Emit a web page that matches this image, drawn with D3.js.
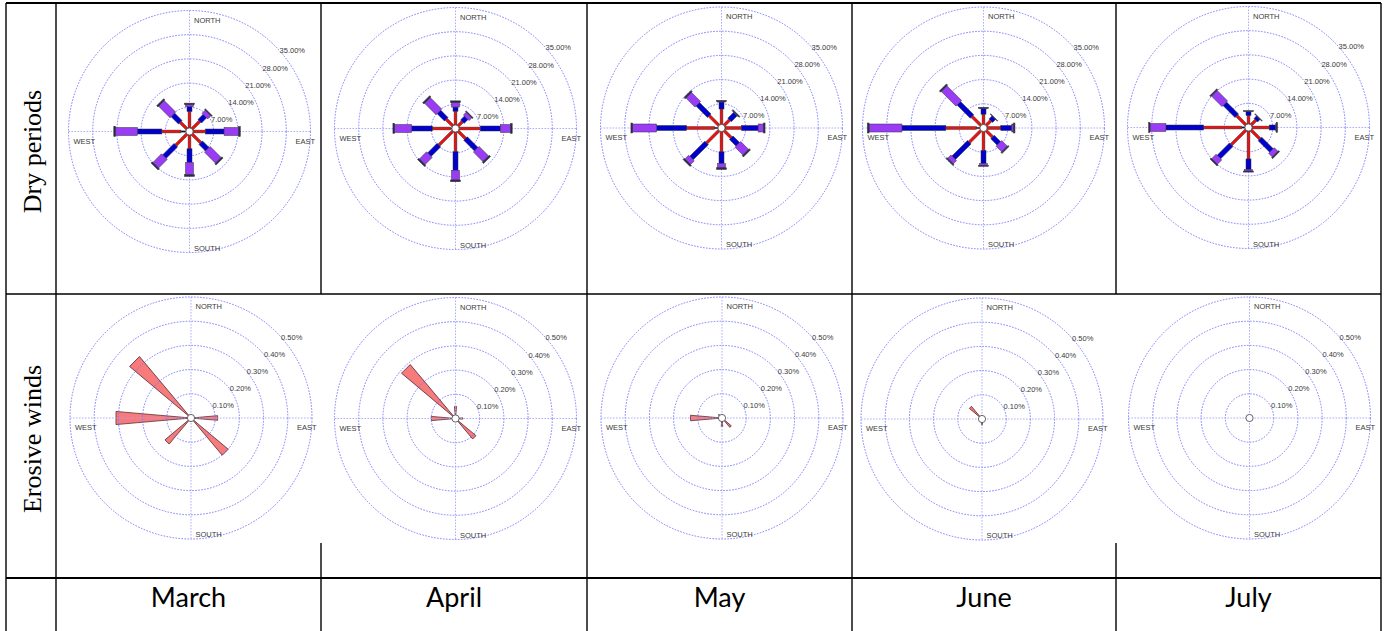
<!DOCTYPE html>
<html>
<head>
<meta charset="utf-8">
<script src="https://cdn.jsdelivr.net/npm/d3@7"></script>
<style>
  html, body { margin: 0; padding: 0; background: #fff; }
  svg { display: block; }
</style>
</head>
<body>
<svg id="chart" width="1387" height="631"></svg>
<script>
// ---- data -------------------------------------------------------------
const months = ["March", "April", "May", "June", "July"];
const rowTitles = ["Dry periods", "Erosive winds"];
const directions = ["N", "NE", "E", "SE", "S", "SW", "W", "NW"];
const speedClasses = ["class1", "class2", "class3", "class4", "class5"];

const dryTicks = [7, 14, 21, 28, 35];
const dryTickLabels = ["7.00%", "14.00%", "21.00%", "28.00%", "35.00%"];
const erosiveTicks = [0.1, 0.2, 0.3, 0.4, 0.5];
const erosiveTickLabels = ["0.10%", "0.20%", "0.30%", "0.40%", "0.50%"];

// Dry periods: frequency (%) per direction (N, NE, E, SE, S, SW, W, NW),
// split into the five speed classes
const dryMarch = [
  [1.0, 4.8, 1.4, 0.6, 0.4],
  [1.0, 3.2, 2.1, 1.3, 0.3],
  [1.0, 3.6, 5.4, 4.2, 0.5],
  [1.0, 3.6, 2.7, 4.5, 0.5],
  [1.0, 4.0, 4.0, 3.5, 0.5],
  [1.0, 4.6, 4.7, 3.5, 0.5],
  [2.5, 5.5, 7.1, 6.3, 0.5],
  [1.0, 2.8, 3.0, 4.7, 0.5]
];
const dryApril = [
  [1.0, 4.0, 1.2, 1.3, 0.5],
  [0.8, 2.0, 1.6, 1.1, 0.3],
  [1.0, 6.2, 5.8, 2.9, 0.5],
  [1.0, 3.1, 4.4, 3.9, 0.5],
  [1.0, 5.7, 5.4, 2.8, 0.5],
  [1.0, 5.8, 3.9, 2.9, 0.5],
  [1.5, 5.2, 6.0, 4.9, 0.5],
  [1.0, 2.8, 3.0, 4.7, 0.5]
];
const dryMay = [
  [1.0, 4.5, 2.0, 0.2, 0.3],
  [1.0, 2.3, 2.4, 0.1, 0.3],
  [1.0, 4.8, 4.8, 1.5, 0.5],
  [1.0, 3.0, 2.7, 3.2, 0.5],
  [1.0, 5.9, 3.4, 1.2, 0.5],
  [1.0, 5.1, 6.2, 1.5, 0.5],
  [2.0, 8.1, 8.7, 6.9, 0.5],
  [1.0, 4.0, 4.7, 3.7, 0.5]
];
const dryJune = [
  [1.0, 3.0, 1.6, 0.1, 0.3],
  [0.8, 2.2, 1.2, 0.0, 0.2],
  [1.0, 4.0, 3.2, 0.5, 0.4],
  [1.0, 2.7, 2.6, 2.3, 0.4],
  [1.0, 5.5, 3.8, 0.5, 0.3],
  [1.0, 4.8, 6.4, 1.3, 0.4],
  [2.0, 8.9, 12.7, 9.5, 0.5],
  [1.0, 3.7, 5.4, 6.0, 0.5]
];
const dryJuly = [
  [1.0, 2.5, 1.1, 0.0, 0.3],
  [0.8, 2.2, 1.0, 0.0, 0.2],
  [1.0, 5.0, 1.9, 0.1, 0.4],
  [1.0, 3.7, 4.7, 1.5, 0.4],
  [1.0, 8.1, 3.1, 0.4, 0.3],
  [1.0, 6.1, 5.0, 1.8, 0.4],
  [2.0, 11.0, 10.9, 4.6, 0.4],
  [1.0, 3.8, 4.9, 4.3, 0.4]
];

// Erosive winds: frequency (%) per direction (N, NE, E, SE, S, SW, W, NW)
const erosiveMarch = [0, 0, 0.11, 0.20, 0.015, 0.14, 0.31, 0.33];
const erosiveApril = [0.05, 0, 0.03, 0.11, 0.01, 0, 0.10, 0.29];
const erosiveMay   = [0, 0, 0, 0.05, 0.035, 0, 0.13, 0.02];
const erosiveJune  = [0, 0, 0, 0, 0.025, 0, 0.012, 0.068];
const erosiveJuly  = [0, 0, 0, 0, 0, 0, 0.014, 0];

const dryData = [dryMarch, dryApril, dryMay, dryJune, dryJuly];
const erosiveData = [erosiveMarch, erosiveApril, erosiveMay, erosiveJune, erosiveJuly];

// ---- layout / style ---------------------------------------------------
const svg = d3.select("#chart");
const R = 121;
const dryCenters = [[189.5, 131.5], [455.5, 128.5], [721.5, 128], [983.5, 128], [1248.5, 127.5]];
const eroCenters = [[191, 418], [455.5, 418.5], [722, 418], [982, 419], [1249.5, 418]];

const classColors = ["#00004a", "#ee1010", "#0000cc", "#9a3cf5", "#2a2a50"];
const classWidths = [1.2, 2.8, 5, 8, 10];
const ringColor = "#6f6fff";
const axisColor = "#a4a4ff";
const labelFont = "'Liberation Sans', Arial, sans-serif";

const colX = [56, 321, 587, 852, 1116, 1381];
const rowY = [3, 294, 578];

// ---- table grid -------------------------------------------------------
const grid = svg.append("g").attr("stroke", "#000").attr("stroke-width", 1.4);
grid.append("line").attr("x1", 6).attr("x2", 6).attr("y1", rowY[0]).attr("y2", 631);
colX.forEach((x, i) => {
  const partial = (i === 1 || i === 4);
  // rows 1 and 3 full height; in row 2 some borders sit behind the chart images
  grid.append("line").attr("x1", x).attr("x2", x).attr("y1", rowY[0]).attr("y2", rowY[1]);
  grid.append("line").attr("x1", x).attr("x2", x).attr("y1", partial ? 543 : rowY[1]).attr("y2", rowY[2]);
  grid.append("line").attr("x1", x).attr("x2", x).attr("y1", rowY[2]).attr("y2", 631);
});
grid.append("line").attr("x1", 6).attr("x2", colX[5]).attr("y1", rowY[0]).attr("y2", rowY[0]).attr("stroke-width", 1.8);
grid.append("line").attr("x1", 6).attr("x2", colX[5]).attr("y1", rowY[1]).attr("y2", rowY[1]);
grid.append("line").attr("x1", 6).attr("x2", colX[5]).attr("y1", rowY[2]).attr("y2", rowY[2]).attr("stroke-width", 2);

// row titles
rowTitles.forEach((t, i) => {
  const cy = (rowY[i] + rowY[i + 1]) / 2 + 3;
  svg.append("text")
    .attr("transform", `translate(41,${cy}) rotate(-90)`)
    .attr("text-anchor", "middle")
    .attr("font-family", "'Liberation Serif', 'Times New Roman', serif")
    .attr("font-size", 26)
    .attr("fill", "#000")
    .text(t);
});

// month labels
months.forEach((m, i) => {
  svg.append("text")
    .attr("x", (colX[i] + colX[i + 1]) / 2)
    .attr("y", 607)
    .attr("text-anchor", "middle")
    .attr("font-family", "Lato, 'Open Sans', sans-serif")
    .attr("font-size", 27)
    .attr("fill", "#000")
    .text(m);
});

// ---- wind rose helpers ------------------------------------------------
function drawGrid(g, r, ticks) {
  const gg = g.append("g")
    .attr("fill", "none")
    .attr("stroke-width", 0.9)
    .attr("stroke-dasharray", "1.6,1.4");
  ticks.forEach(t => gg.append("circle").attr("r", r(t)).attr("stroke", ringColor));
  const rmax = r(ticks[ticks.length - 1]);
  gg.append("line").attr("x1", -rmax).attr("x2", rmax).attr("y1", 0).attr("y2", 0).attr("stroke", axisColor);
  gg.append("line").attr("x1", 0).attr("x2", 0).attr("y1", -rmax).attr("y2", rmax).attr("stroke", axisColor);
}

function drawLabels(g, r, ticks, tickLabels) {
  const rmax = r(ticks[ticks.length - 1]);
  const lab = g.append("g")
    .attr("font-family", labelFont)
    .attr("font-size", 7.5)
    .attr("fill", "#3a3a3a");
  ticks.forEach((t, i) => {
    const d = r(t) * Math.SQRT1_2;
    lab.append("text").attr("x", d + 4.5).attr("y", -d + 7.5).text(tickLabels[i]);
  });
  lab.append("text").attr("x", 4.5).attr("y", -rmax + 12).text("NORTH");
  lab.append("text").attr("x", 4.5).attr("y", rmax - 2).text("SOUTH");
  lab.append("text").attr("x", rmax - 15).attr("y", 12.3).text("EAST");
  lab.append("text").attr("x", -rmax + 5).attr("y", 12.3).text("WEST");
}

function drawCalm(g) {
  g.append("circle").attr("r", 3.6)
    .attr("fill", "#fff").attr("stroke", "#555").attr("stroke-width", 0.9);
}

// ---- dry period roses -------------------------------------------------
dryData.forEach((data, m) => {
  const [cx, cy] = dryCenters[m];
  const g = svg.append("g").attr("transform", `translate(${cx},${cy})`);
  const r = d3.scaleLinear().domain([0, 35]).range([0, R]);

  drawGrid(g, r, dryTicks);

  const bars = g.append("g");
  data.forEach((vals, di) => {
    const dg = bars.append("g").attr("transform", `rotate(${di * 45 - 90})`);
    const cum = d3.cumsum(vals);
    vals.forEach((v, ci) => {
      if (v <= 0) return;
      const start = ci === 0 ? 0 : cum[ci - 1];
      const end = cum[ci];
      const w = classWidths[ci];
      dg.append("rect")
        .attr("x", r(start))
        .attr("y", -w / 2)
        .attr("width", r(end) - r(start))
        .attr("height", w)
        .attr("fill", classColors[ci])
        .attr("stroke", "#333")
        .attr("stroke-width", 0.5);
    });
  });

  drawLabels(g, r, dryTicks, dryTickLabels);
  drawCalm(g);
});

// ---- erosive wind roses -----------------------------------------------
const halfAngle = 5 * Math.PI / 180;
erosiveData.forEach((data, m) => {
  const [cx, cy] = eroCenters[m];
  const g = svg.append("g").attr("transform", `translate(${cx},${cy})`);
  const r = d3.scaleLinear().domain([0, 0.5]).range([0, R]);

  const wedges = g.append("g");
  data.forEach((v, di) => {
    if (v <= 0) return;
    const L = r(v);
    const h = L * Math.tan(halfAngle);
    wedges.append("path")
      .attr("transform", `rotate(${di * 45 - 90})`)
      .attr("d", `M0,0L${L},${-h}L${L},${h}Z`)
      .attr("fill", "#f77b7b")
      .attr("stroke", "#5c2e3a")
      .attr("stroke-width", 0.8);
  });

  drawGrid(g, r, erosiveTicks);
  drawLabels(g, r, erosiveTicks, erosiveTickLabels);
  drawCalm(g);
});
</script>
</body>
</html>
